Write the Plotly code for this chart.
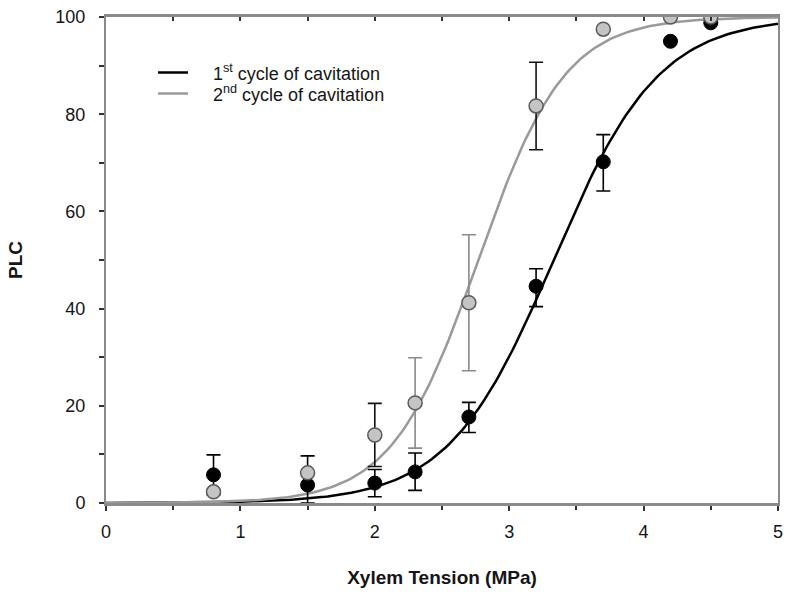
import numpy as np
import plotly.graph_objects as go

# ---- data ----
x_tension = [0.8, 1.5, 2.0, 2.3, 2.7, 3.2, 3.7, 4.2, 4.5]

plc_1st = [5.8, 3.7, 4.1, 6.4, 17.7, 44.6, 70.2, 95.0, 98.8]
err_1st_up = [4.1, 6.0, 2.8, 3.9, 3.0, 3.6, 5.6, 0.0, 0.0]
err_1st_down = [4.1, 3.7, 2.8, 3.8, 3.2, 4.2, 6.0, 0.0, 0.0]

plc_2nd = [2.3, 6.2, 14.0, 20.6, 41.2, 81.7, 97.5, 100.0, 100.0]
err_2nd = [0.0, 0.0, 6.5, 9.3, 14.0, 9.0, 0.0, 0.0, 0.0]
err_2nd_dark = [False, False, True, False, False, True, False, False, False]

# fitted sigmoid parameters (P50 in MPa, slope)
fit_1st = {"p50": 3.33, "slope": 2.55}
fit_2nd = {"p50": 2.77, "slope": 3.1}

x_ticks = [0, 1, 2, 3, 4, 5]
y_ticks = [0, 20, 40, 60, 80, 100]

legend_1st = "1<sup>st</sup> cycle of cavitation"
legend_2nd = "2<sup>nd</sup> cycle of cavitation"

# ---- build ----
xs = np.linspace(0, 5, 201)


def sigmoid(x, p):
    return 100.0 / (1.0 + np.exp(-p["slope"] * (x - p["p50"])))


xa = np.array(x_tension)
y2 = np.array(plc_2nd)
e2 = np.array(err_2nd)
dark = np.array(err_2nd_dark)
light = (e2 > 0) & ~dark

FONT = "Liberation Sans, Arial, sans-serif"
TXT = "#151515"
PAD = "\u00a0" * 4
fig = go.Figure()

fig.add_trace(go.Scatter(x=xs, y=sigmoid(xs, fit_1st), mode="lines",
                         line=dict(color="#000000", width=2.5),
                         name=PAD + legend_1st, legend="legend"))
fig.add_trace(go.Scatter(x=xs, y=sigmoid(xs, fit_2nd), mode="lines",
                         line=dict(color="#9a9a9a", width=2.5),
                         name=PAD + legend_2nd, legend="legend2"))

fig.add_trace(go.Scatter(
    x=x_tension, y=plc_1st, mode="markers", showlegend=False,
    marker=dict(color="#000000", size=14, line=dict(color="#000000", width=1)),
    error_y=dict(type="data", array=err_1st_up, arrayminus=err_1st_down,
                 color="#000000", thickness=1.6, width=7)))

fig.add_trace(go.Scatter(
    x=xa[dark], y=y2[dark], mode="markers", showlegend=False,
    marker=dict(color="rgba(0,0,0,0)", size=1),
    error_y=dict(type="data", array=e2[dark], color="#111111",
                 thickness=1.6, width=7)))
fig.add_trace(go.Scatter(
    x=xa[light], y=y2[light], mode="markers", showlegend=False,
    marker=dict(color="rgba(0,0,0,0)", size=1),
    error_y=dict(type="data", array=e2[light], color="#8a8a8a",
                 thickness=1.6, width=7)))

fig.add_trace(go.Scatter(
    x=x_tension, y=plc_2nd, mode="markers", showlegend=False,
    marker=dict(color="#c4c4c4", size=14, line=dict(color="#5a5a5a", width=1.5))))

# invisible trace so the top (mirror) axis with inward ticks is drawn
fig.add_trace(go.Scatter(x=x_tension, y=plc_1st, mode="markers", xaxis="x2",
                         showlegend=False, hoverinfo="skip",
                         marker=dict(color="rgba(0,0,0,0)", size=1)))

axis_col = "#8a8a8a"
tick_col = "#333333"
fig.update_layout(
    width=790, height=594,
    margin=dict(l=106, r=7, t=17, b=91),
    paper_bgcolor="white", plot_bgcolor="white",
    font=dict(family=FONT, size=18, color=TXT),
    showlegend=True,
    legend=dict(x=0.07, y=0.885, xanchor="left", yanchor="middle",
                bgcolor="rgba(0,0,0,0)", font=dict(size=18, color=TXT)),
    legend2=dict(x=0.07, y=0.842, xanchor="left", yanchor="middle",
                 bgcolor="rgba(0,0,0,0)", font=dict(size=18, color=TXT)),
    xaxis=dict(range=[0, 5], tickvals=x_ticks, ticks="outside", ticklen=5,
               tickwidth=1.5, tickcolor=tick_col,
               showgrid=False, zeroline=False, showline=True, linecolor=axis_col,
               linewidth=2.5, mirror=True,
               minor=dict(dtick=0.5, ticks="outside", ticklen=4, tickcolor=tick_col,
                          tickwidth=1.5, showgrid=False),
               ticklabelstandoff=6, tickfont=dict(size=18),
               title=dict(text="<b>Xylem Tension (MPa)</b>", standoff=30,
                          font=dict(size=19))),
    xaxis2=dict(range=[0, 5], overlaying="x", side="top", tickvals=x_ticks,
                ticks="inside", ticklen=4, tickwidth=1.5, tickcolor=tick_col,
                showticklabels=False, showgrid=False, zeroline=False,
                minor=dict(dtick=0.5, ticks="inside", ticklen=4, tickcolor=tick_col,
                           tickwidth=1.5, showgrid=False)),
    yaxis=dict(range=[0, 100], tickvals=y_ticks, ticks="outside", ticklen=5,
               tickwidth=1.5, tickcolor=tick_col,
               showgrid=False, zeroline=False, showline=True, linecolor=axis_col,
               linewidth=2, mirror=True,
               minor=dict(dtick=10, ticks="outside", ticklen=5, tickcolor=tick_col,
                          tickwidth=1.5, showgrid=False),
               ticklabelstandoff=10, tickfont=dict(size=18),
               title=dict(text="<b>PLC</b>", standoff=28, font=dict(size=19))),
)

fig.write_html("out.html")
